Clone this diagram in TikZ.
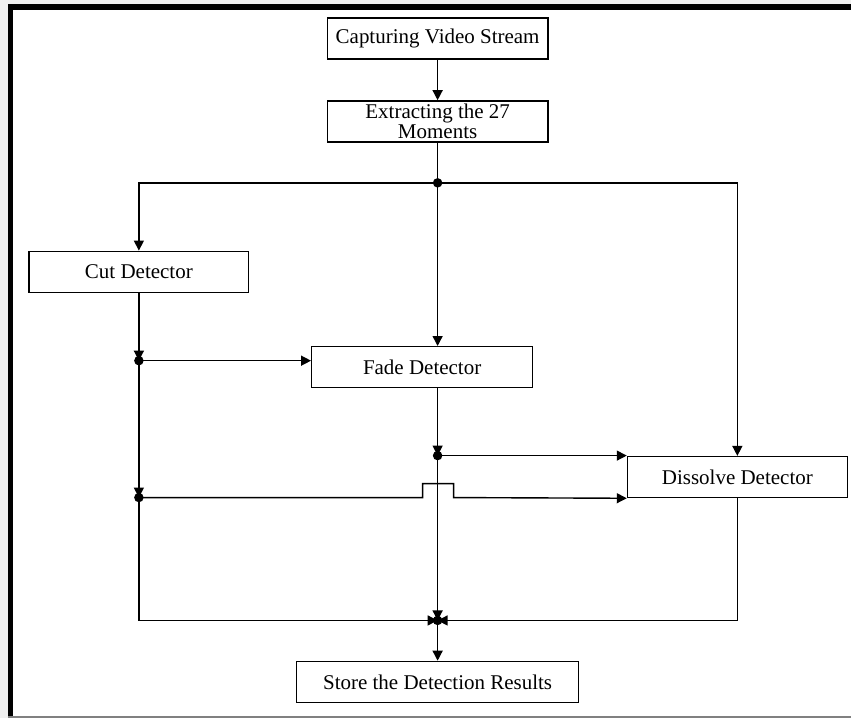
\documentclass[tikz,border=0pt]{standalone}
\usepackage{fontspec}
\setmainfont{Liberation Serif}
\usetikzlibrary{arrows.meta}
\begin{document}
\begin{tikzpicture}[x=1pt,y=-1pt,
  box/.style={draw, line width=1.4pt, minimum width=#1, minimum height=41pt,
    inner sep=0pt, align=center, font=\fontsize{21}{20}\selectfont},
  flow/.style={line width=1.4pt, -{Triangle[length=10pt,width=10pt]}},
  link/.style={line width=1.4pt},
  dot/.style={circle, fill, inner sep=0pt, minimum size=9.5pt}
]
% page and frame
\fill[gray!12] (0,0) rectangle (852,719);
\fill[white] (8,4) rectangle (852,718);
\fill[black] (8,4) rectangle (852,10);
\fill[black] (8,4) rectangle (13,718);
\draw[gray, line width=1.5pt] (8,717.5) -- (852,717.5);
\useasboundingbox (0,0) rectangle (852,719);

% process boxes
\node[box=221pt] (cap) at (438,38.5) {Capturing Video Stream};
\node[box=221pt] (ext) at (438,121.5) {Extracting the 27\\Moments};
\node[box=220pt] (cut) at (139,272) {Cut Detector};
\node[box=221pt] (fade) at (422.5,367.5) {Fade Detector};
\node[box=220pt] (diss) at (738,477.5) {Dissolve Detector};
\node[box=282pt] (store) at (438,682.5) {Store the Detection Results};

% junction points
\coordinate (jtop) at (438,183);
\coordinate (jcut1) at (139,361);
\coordinate (jcut2) at (139,498);
\coordinate (jfade) at (438,456);
\coordinate (jall) at (438,621);

% connectors
\draw[flow] (cap) -- (ext);
\draw[link] (ext.south) -- (jtop);
\draw[flow] (jtop) -| (cut.north);
\draw[flow] (jtop) -| (diss.north);
\draw[flow] (jtop) -- (jtop |- fade.north);

\draw[flow] (cut.south) -- (jcut1);
\draw[flow] (jcut1) -- (fade.west |- jcut1);
\draw[flow] (jcut1) -- (jcut2);
\draw[flow] (jcut2) |- (jall);

\draw[flow] (jfade |- fade.south) -- (jfade);
\draw[flow] (jfade) -- (jfade -| diss.west);
\draw[flow] (jfade) -- (jall);

% crossing hop over the fade line
\draw[flow] (jcut2) -- (423,498) -- (423,484) -- (454,484) -- (454,498) -- (diss.south west);

\draw[flow] (diss.south) |- (jall);
\draw[flow] (jall) -- (store.north);

% junction dots
\foreach \j in {jtop,jcut1,jcut2,jfade,jall} \node[dot] at (\j) {};
\end{tikzpicture}
\end{document}
